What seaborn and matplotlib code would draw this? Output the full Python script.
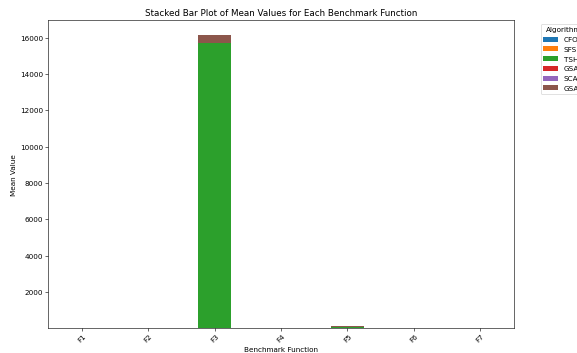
import numpy as np
import pandas as pd
import matplotlib
matplotlib.use("Agg")
import matplotlib.pyplot as plt
import seaborn as sns

# Benchmark functions and the mean value each algorithm reached on them
functions = ["F1", "F2", "F3", "F4", "F5", "F6", "F7"]
algorithms = ["CFOA", "SFS", "TSHO", "GSA", "SCA", "GSA"]

cfoa_mean = [0.0, 0.0, 0.5, 0.1, 5.0, 0.0, 0.01]
sfs_mean = [0.0, 0.0, 1.0, 0.2, 8.0, 0.0, 0.01]
tsho_mean = [0.0, 0.0, 15700.0, 0.5, 40.0, 0.0, 0.02]
gsa_mean = [0.0, 0.0, 2.0, 0.3, 5.0, 0.0, 0.05]
sca_mean = [0.0, 0.0, 3.0, 0.4, 6.0, 0.1, 0.05]
gsa2_mean = [0.0, 0.0, 440.0, 1.0, 45.0, 0.0, 0.03]

series = [cfoa_mean, sfs_mean, tsho_mean, gsa_mean, sca_mean, gsa2_mean]
colors = sns.color_palette("tab10", len(series))

dpi = 52.5
fig = plt.figure(figsize=(577.4 / dpi, 353.4 / dpi), dpi=dpi)
ax = fig.add_axes([0.0837, 0.070, 0.8896 - 0.0837, 0.9414 - 0.070])

bottom = np.zeros(len(functions))
for name, values, color in zip(algorithms, series, colors):
    df = pd.DataFrame({"Function": functions, "Mean": values})
    sns.barplot(data=df, x="Function", y="Mean", order=functions,
                color=color, width=0.5, errorbar=None, bottom=bottom,
                linewidth=0, edgecolor="none", saturation=1, ax=ax)
    bottom = bottom + np.asarray(values)

ax.set_xlim(-0.5, len(functions) - 0.5)
ax.set_ylim(bottom=5)
ax.set_title("Stacked Bar Plot of Mean Values for Each Benchmark Function")
ax.set_xlabel("Benchmark Function")
ax.set_ylabel("Mean Value")
ax.tick_params(axis="x", rotation=45)

ax.legend(list(ax.containers), algorithms, title="Algorithm",
          bbox_to_anchor=(1.05, 1), loc="upper left")

fig.savefig("out.png", dpi=dpi)
